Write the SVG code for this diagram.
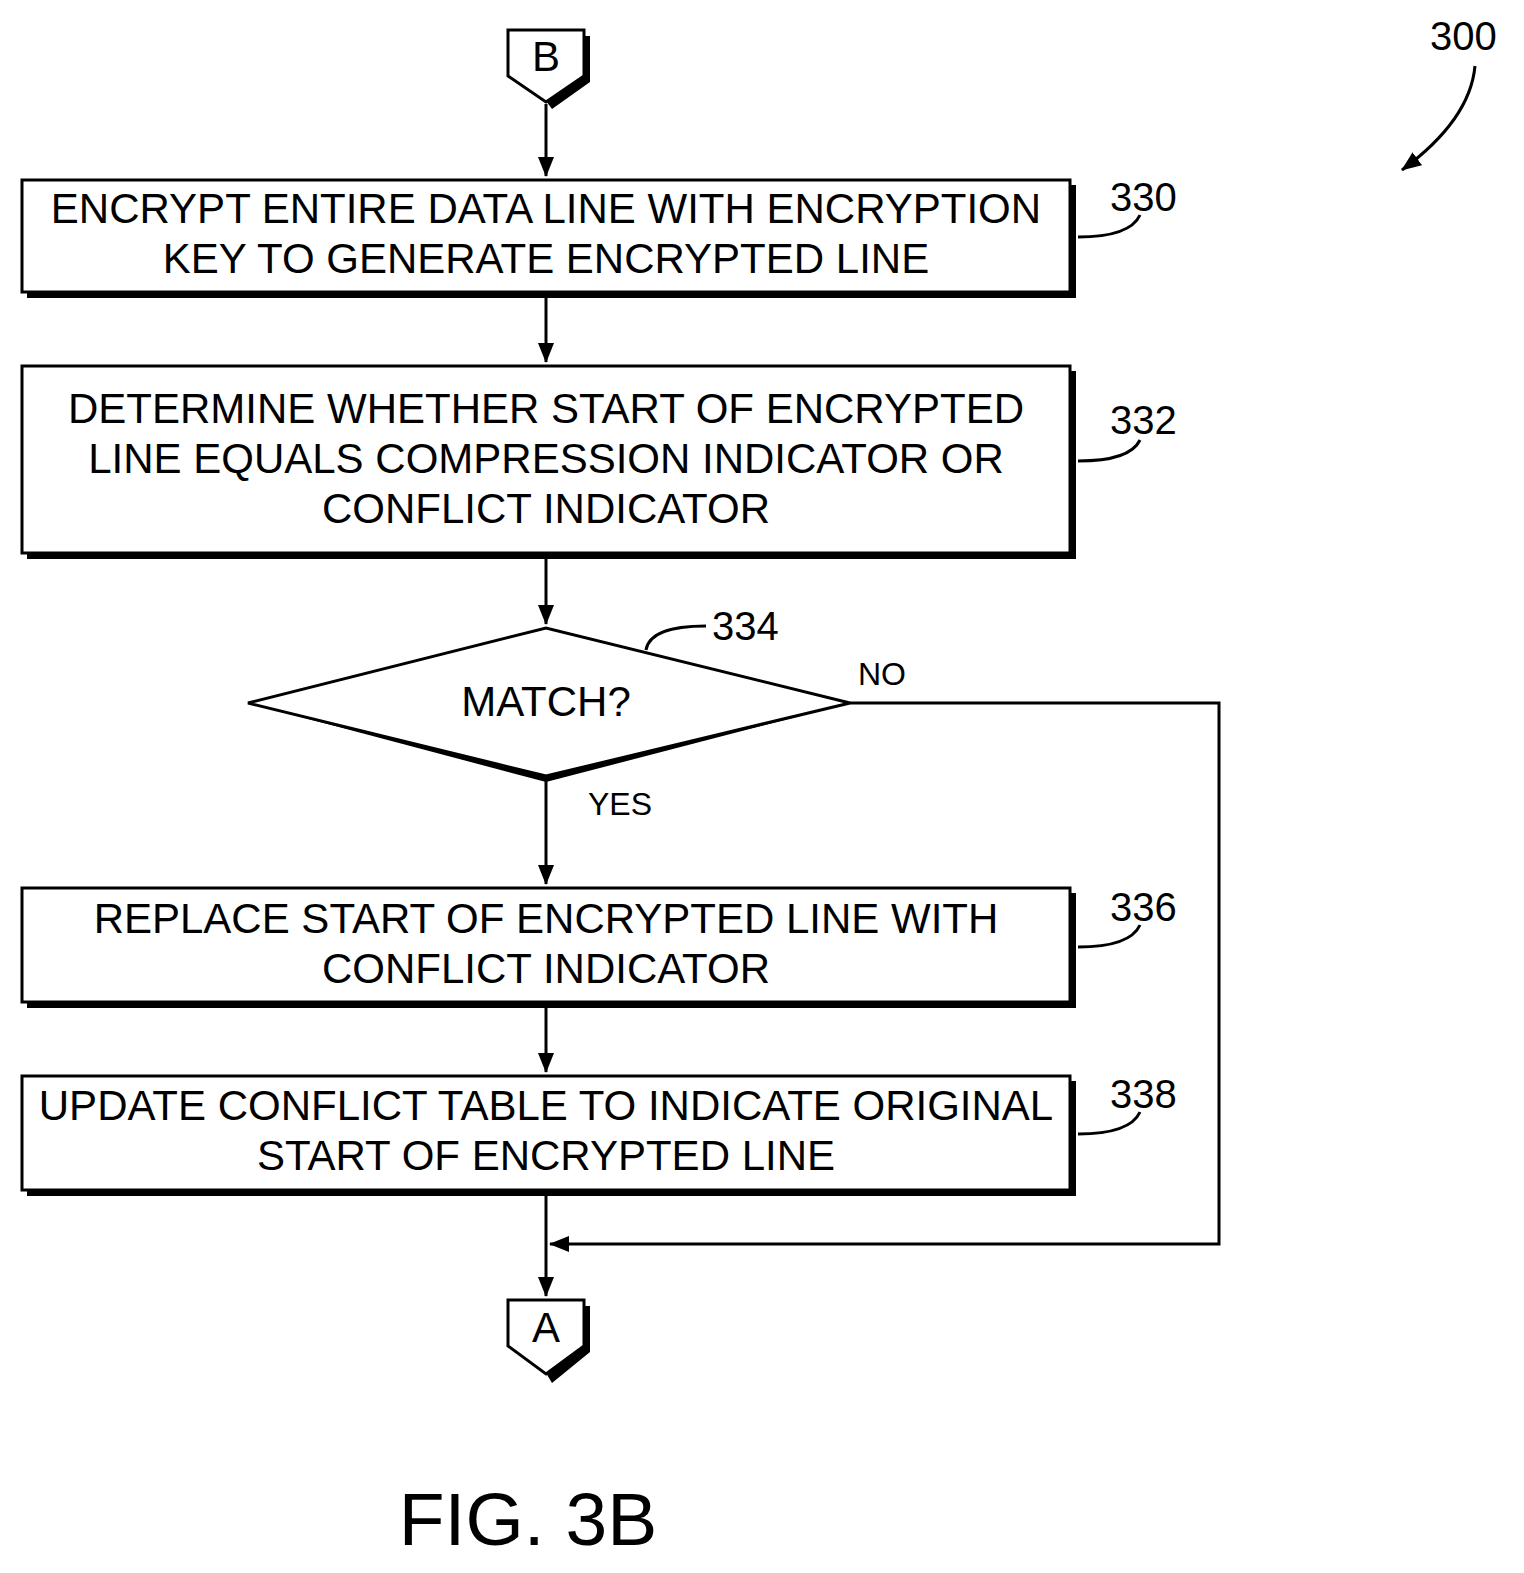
<svg xmlns="http://www.w3.org/2000/svg" width="1524" height="1573" viewBox="0 0 1524 1573">
<defs>
<style>
.t{font-family:"Liberation Sans",Arial,sans-serif;font-size:42px;text-anchor:middle;fill:#000}
.r{font-family:"Liberation Sans",Arial,sans-serif;font-size:40px;fill:#000}
.b{fill:#fff;stroke:#000;stroke-width:3}
.s{fill:#000}
.l{fill:none;stroke:#000;stroke-width:3}
</style>
<marker id="ah" markerWidth="20" markerHeight="20" refX="19" refY="10" orient="auto" markerUnits="userSpaceOnUse"><path d="M0,2 L20,10 L0,18 z"/></marker>
</defs>
<g id="connB"><path class="s" d="M584,36 L590,36 L590,82 L552,109 L546,101 L584,76 z"/><path class="b" d="M508,30 L584,30 L584,76 L546,102 L508,76 z"/><text class="t" x="546" y="71">B</text></g>
<g id="n330"><rect class="s" x="27" y="185" width="1049" height="113"/><rect class="b" x="22" y="180" width="1048" height="112"/><text class="t" x="546" y="223">ENCRYPT ENTIRE DATA LINE WITH ENCRYPTION</text><text class="t" x="546" y="273">KEY TO GENERATE ENCRYPTED LINE</text><text class="r" x="1110" y="211">330</text></g>
<g id="n332"><rect class="s" x="27" y="371" width="1049" height="188"/><rect class="b" x="22" y="366" width="1048" height="187"/><text class="t" x="546" y="423">DETERMINE WHETHER START OF ENCRYPTED</text><text class="t" x="546" y="473">LINE EQUALS COMPRESSION INDICATOR OR</text><text class="t" x="546" y="523">CONFLICT INDICATOR</text><text class="r" x="1110" y="434">332</text></g>
<g id="n334"><path class="s" d="M248,703 L850,703 L546,782 z"/><path class="b" d="M248,703 L546,628 L850,703 L546,776 z"/><text class="t" x="546" y="716">MATCH?</text><text class="r" x="712" y="640">334</text></g>
<g id="n336"><rect class="s" x="27" y="893" width="1049" height="115"/><rect class="b" x="22" y="888" width="1048" height="114"/><text class="t" x="546" y="933">REPLACE START OF ENCRYPTED LINE WITH</text><text class="t" x="546" y="983">CONFLICT INDICATOR</text><text class="r" x="1110" y="921">336</text></g>
<g id="n338"><rect class="s" x="27" y="1081" width="1049" height="115"/><rect class="b" x="22" y="1076" width="1048" height="114"/><text class="t" x="546" y="1120">UPDATE CONFLICT TABLE TO INDICATE ORIGINAL</text><text class="t" x="546" y="1170">START OF ENCRYPTED LINE</text><text class="r" x="1110" y="1108">338</text></g>
<g id="connA"><path class="s" d="M584,1306 L590,1306 L590,1352 L552,1383 L546,1373 L584,1346 z"/><path class="b" d="M508,1300 L584,1300 L584,1346 L546,1374 L508,1346 z"/><text class="t" x="546" y="1342">A</text></g>
<g id="connectors">
<path class="l" d="M546,104 V176" marker-end="url(#ah)"/>
<path class="l" d="M546,298 V362" marker-end="url(#ah)"/>
<path class="l" d="M546,559 V624" marker-end="url(#ah)"/>
<path class="l" d="M546,780 V884" marker-end="url(#ah)"/>
<path class="l" d="M546,1008 V1072" marker-end="url(#ah)"/>
<path class="l" d="M546,1196 V1296" marker-end="url(#ah)"/>
<path class="l" d="M850,703 H1219 V1244 H550" marker-end="url(#ah)"/>
<path class="l" d="M1078,237 Q1130,237 1140,215"/>
<path class="l" d="M1078,461 Q1130,461 1140,440"/>
<path class="l" d="M1078,947 Q1130,947 1140,925"/>
<path class="l" d="M1078,1134 Q1130,1134 1140,1112"/>
<path class="l" d="M646,650 Q650,626 706,626"/>
<path class="l" d="M1475,66 Q1470,120 1402,170" marker-end="url(#ah)"/>
<text class="r" x="858" y="685" style="font-size:32px">NO</text>
<text class="r" x="588" y="815" style="font-size:32px">YES</text>
</g>
<text class="r" x="1430" y="50">300</text>
<text class="t" x="528" y="1545" style="font-size:75px">FIG. 3B</text>
</svg>
